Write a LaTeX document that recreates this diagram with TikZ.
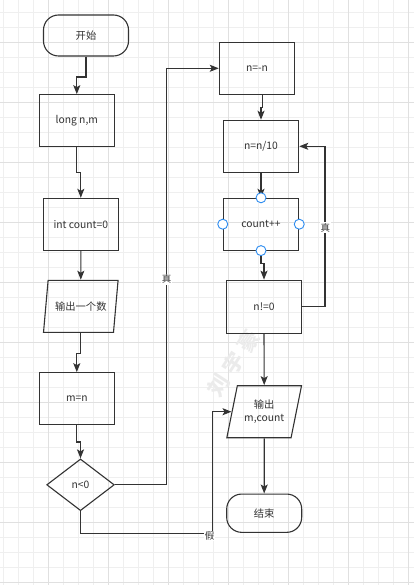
\documentclass[tikz,border=0pt]{standalone}
\usepackage{fontspec}
\setmainfont{Noto Sans CJK SC}
\usetikzlibrary{shapes.geometric,arrows.meta}
\definecolor{ink}{HTML}{333333}
\definecolor{gridA}{HTML}{EFEFEF}
\definecolor{gridB}{HTML}{E0E0E0}
\definecolor{hblue}{HTML}{2D8CF0}
\tikzset{
  base/.style={draw=ink,line width=1.1pt,text=ink,inner sep=1pt,font=\fontsize{10.3}{12.5}\selectfont},
  procbox/.style={base,rectangle,minimum width=75pt,minimum height=52pt},
  term/.style={base,rectangle,rounded corners=15pt},
  iobox/.style={base,trapezium,trapezium left angle=72,trapezium right angle=108,trapezium stretches=true,minimum width=75pt,minimum height=52pt},
  decbox/.style={base,diamond,minimum width=67.6pt,minimum height=51.7pt,inner sep=0pt},
  arr/.style={draw=ink,line width=1.1pt,-{Stealth[length=9pt,width=7pt,inset=2pt]}},
  lbl/.style={fill=white,inner sep=1pt,text=ink,font=\fontsize{9.5}{10}\selectfont},
  hcirc/.style={circle,draw=hblue,fill=white,line width=0.9pt,minimum size=10pt,inner sep=0pt},
  wmark/.style={text=black!8,rotate=57,inner sep=0pt,font=\fontsize{21}{22}\selectfont\bfseries},
}
\begin{document}
\begin{tikzpicture}[x=1pt,y=-1pt]
\useasboundingbox (0,0) rectangle (414,585);
\fill[white] (0,0) rectangle (414,585);
% grid
\foreach \k in {0,...,27}{
  \pgfmathsetmacro{\gx}{3.3+15*\k}
  \draw[gridA,line width=1pt] (\gx,0) -- (\gx,585);
}
\foreach \k in {0,...,38}{
  \pgfmathsetmacro{\gy}{-2.3+15*\k}
  \draw[gridA,line width=1pt] (0,\gy) -- (414,\gy);
}
\foreach \k in {0,...,6}{
  \pgfmathsetmacro{\gx}{48.3+60*\k}
  \draw[gridB,line width=1pt] (\gx,0) -- (\gx,585);
}
\foreach \k in {0,...,9}{
  \pgfmathsetmacro{\gy}{42.7+60*\k}
  \draw[gridB,line width=1pt] (0,\gy) -- (414,\gy);
}
% watermark
\node[wmark] (wm1) at (218,385) {刘};
\node[wmark] (wm2) at (233,363) {宇};
\node[wmark] (wm3) at (248,341) {豪};
% nodes
\node[term,minimum width=85pt,minimum height=41pt] (start) at (86,35.5) {开始};
\node[procbox] (long) at (76.8,120.7) {long n,m};
\node[procbox,minimum height=51.7pt] (cnt0) at (80.8,224.2) {int count=0};
\node[iobox] (in) at (80.8,306.3) {输出一个数};
\node[procbox] (mn) at (76.8,398.7) {m=n};
\node[decbox] (dia) at (80.5,484.8) {n<0};
\node[procbox,minimum width=75.4pt] (nn) at (257,68.3) {n=-n};
\node[procbox,minimum width=75.4pt] (nd) at (261,146.3) {n=n/10};
\node[procbox,minimum width=75.4pt,minimum height=51.7pt] (cp) at (261,224.2) {count++};
\node[procbox,minimum height=53pt] (ne) at (264,306.7) {n!=0};
\node[iobox,align=center] (out) at (264.2,411.7) {输出\\m,count};
\node[term,minimum width=75pt,minimum height=38.3pt] (end) at (264.2,513.2) {结束};
% helper coordinates
\coordinate (t1) at (166.7,68.3);
\coordinate (t2) at (325,146.3);
\coordinate (f1) at (212.7,533.3);
% connectors
\draw[arr] (start.south) -- ++(0,20.5) -| (long.north);
\draw[arr] (long.south) -- ++(0,25.3) -| (cnt0.north);
\draw[arr] (cnt0.south) -- (in.north);
\draw[arr] (in.south) -- ++(0,20.3) -| (mn.north);
\draw[arr] (mn.south) -- ++(0,16.7) -| (dia.north);
\draw[arr] (dia.east) -| (t1) -- (nn.west);
\draw[arr] ([xshift=5.7pt]nn.south) -- ++(0,12.4) -| (nd.north);
\draw[arr] (nd.south) -- (cp.north);
\draw[arr] (cp.south) -- ++(0,13.3) -| (ne.north);
\draw[arr] (ne.east) -| (t2) -- (nd.east);
\draw[arr] (ne.south) -- (out.north);
\draw[arr] (out.south) -- (end.north);
\draw[arr] (dia.south) |- (f1) |- (out.west);
% labels
\node[lbl] (lt1) at (166.7,279.3) {真};
\node[lbl] (lt2) at (325.3,227.7) {真};
\node[lbl] (lf1) at (209.5,536) {假};
% handles
\node[hcirc] (h1) at (cp.north) {};
\node[hcirc] (h2) at (cp.south) {};
\node[hcirc] (h3) at (cp.west) {};
\node[hcirc] (h4) at (cp.east) {};
\end{tikzpicture}
\end{document}
